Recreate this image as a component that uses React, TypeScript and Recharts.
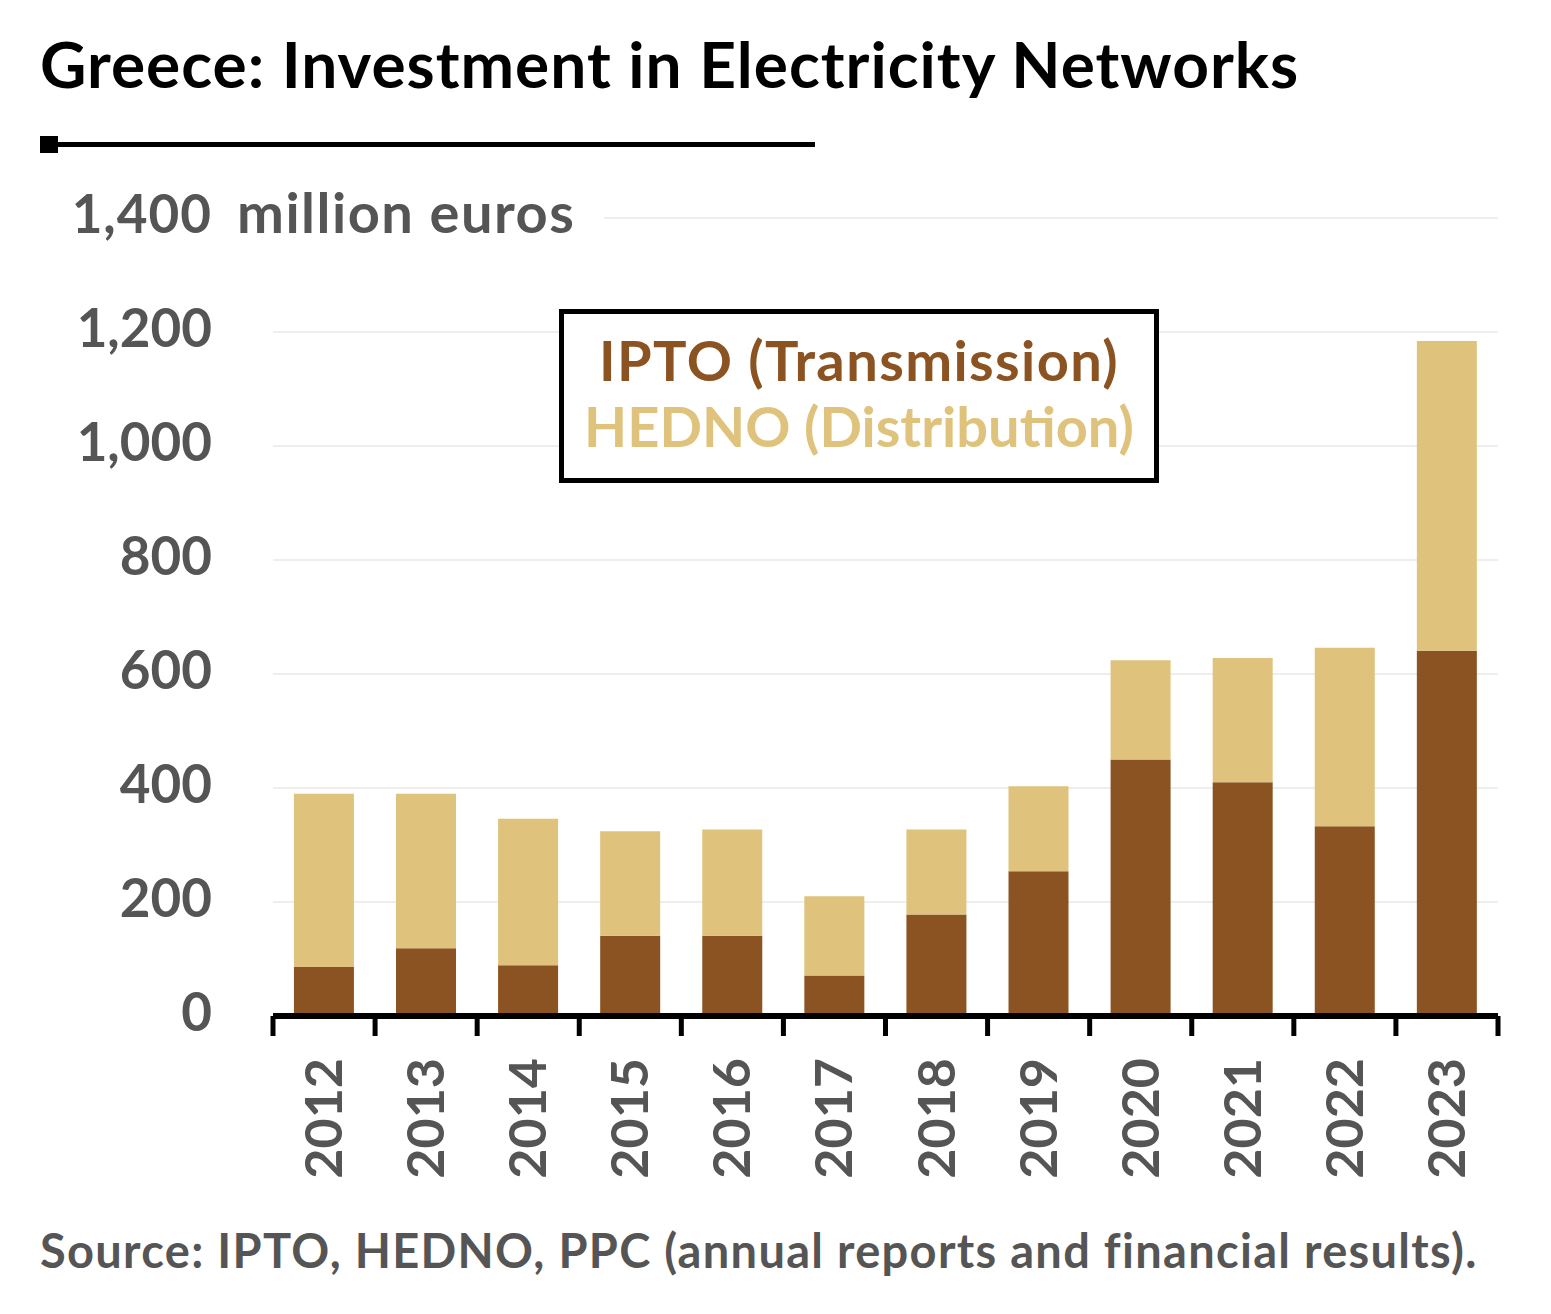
import React from 'react';
import { BarChart, Bar, XAxis, YAxis, CartesianGrid, Legend } from 'recharts';

// ---- data ----
const years = ['2012', '2013', '2014', '2015', '2016', '2017', '2018', '2019', '2020', '2021', '2022', '2023'];
const iptoTransmission = [86, 119, 89, 141, 141, 71, 178, 254, 450, 410, 333, 641];
const hednoDistribution = [304, 271, 257, 183, 186, 139, 149, 149, 174, 218, 313, 543];
const yTicks = [0, 200, 400, 600, 800, 1000, 1200, 1400];

const seriesNames = { ipto: 'IPTO (Transmission)', hedno: 'HEDNO (Distribution)' };
const titleText = 'Greece: Investment in Electricity Networks';
const unitText = 'million euros';
const sourceText = 'Source: IPTO, HEDNO, PPC (annual reports and financial results).';

const data = years.map((year, i) => ({ year, ipto: iptoTransmission[i], hedno: hednoDistribution[i] }));

// ---- layout / style ----
const W = 1551;
const H = 1314;
const FONT = 'Lato, "Noto Sans", sans-serif';
const GRAY = '#555555';
const BROWN = '#8C5322';
const TAN = '#DFC37C';
const PLOT_LEFT = 273;
const PLOT_RIGHT = 1498;
const PLOT_TOP = 218;
const PLOT_BOTTOM = 1016;
const BAND = (PLOT_RIGHT - PLOT_LEFT) / years.length;

const YTick = (props: any) => {
  const { y, payload } = props;
  const v = payload.value as number;
  const label = v.toLocaleString('en-US');
  const isTop = v === yTicks[yTicks.length - 1];
  return (
    <g>
      {isTop && <rect x={214} y={y - 12} width={390} height={24} fill="#ffffff" />}
      <text
        x={212}
        y={y + 15}
        textAnchor="end"
        fill={GRAY}
        fontFamily={FONT}
        fontWeight={700}
        fontSize={53}
        letterSpacing={isTop ? 1 : 0}
      >
        {label}
      </text>
      {isTop && (
        <text
          x={237}
          y={y + 15}
          textAnchor="start"
          fill={GRAY}
          fontFamily={FONT}
          fontWeight={700}
          fontSize={56}
          letterSpacing={1.5}
        >
          {unitText}
        </text>
      )}
    </g>
  );
};

const XTick = (props: any) => {
  const { x, payload } = props;
  const half = BAND / 2;
  const isLast = payload.value === years[years.length - 1];
  return (
    <g>
      <line x1={x - half} x2={x - half} y1={PLOT_BOTTOM} y2={1036} stroke="#000" strokeWidth={5} />
      {isLast && <line x1={x + half} x2={x + half} y1={PLOT_BOTTOM} y2={1036} stroke="#000" strokeWidth={5} />}
      <text
        transform={`translate(${x + 18},1058) rotate(-90)`}
        textAnchor="end"
        fill={GRAY}
        fontFamily={FONT}
        fontWeight={700}
        fontSize={52}
      >
        {payload.value}
      </text>
    </g>
  );
};

const LegendBox = () => (
  <svg width={600} height={174} style={{ display: 'block' }}>
    <rect x={2.5} y={2.5} width={595} height={169} fill="#fff" stroke="#000" strokeWidth={5} />
    <text
      x={300}
      y={72}
      textAnchor="middle"
      fill={BROWN}
      fontFamily={FONT}
      fontWeight={700}
      fontSize={56}
      letterSpacing={1.4}
    >
      {seriesNames.ipto}
    </text>
    <text x={300} y={138} textAnchor="middle" fill={TAN} fontFamily={FONT} fontWeight={700} fontSize={56}>
      {seriesNames.hedno}
    </text>
  </svg>
);

export default function App() {
  return (
    <div style={{ position: 'absolute', left: 0, top: 0, width: W, height: H, background: '#fff' }}>
      <BarChart
        width={W}
        height={H}
        data={data}
        margin={{ top: PLOT_TOP, right: W - PLOT_RIGHT, bottom: 98, left: 0 }}
        barCategoryGap="20.5%"
      >
        <CartesianGrid vertical={false} stroke="#eeeeee" strokeWidth={2} />
        <XAxis
          dataKey="year"
          height={H - 98 - PLOT_BOTTOM}
          axisLine={{ stroke: '#000', strokeWidth: 6 }}
          tickLine={false}
          tick={<XTick />}
          interval={0}
        />
        <YAxis
          width={PLOT_LEFT}
          domain={[0, 1400]}
          ticks={yTicks}
          axisLine={false}
          tickLine={false}
          tick={<YTick />}
          interval={0}
        />
        <Bar dataKey="ipto" name={seriesNames.ipto} stackId="a" fill={BROWN} isAnimationActive={false} />
        <Bar dataKey="hedno" name={seriesNames.hedno} stackId="a" fill={TAN} isAnimationActive={false} />
        <Legend
          layout="vertical"
          align="center"
          verticalAlign="middle"
          content={<LegendBox />}
          wrapperStyle={{ left: 559, top: 309, width: 600, height: 174 }}
        />
      </BarChart>
      <svg width={W} height={H} style={{ position: 'absolute', left: 0, top: 0, pointerEvents: 'none' }}>
        <text x={40} y={88} fill="#000" fontFamily={FONT} fontWeight={700} fontSize={64} letterSpacing={1}>
          {titleText}
        </text>
        <rect x={40} y={136} width={18} height={17} fill="#000" />
        <line x1={56} x2={815} y1={144.5} y2={144.5} stroke="#000" strokeWidth={5} />
        <text x={40} y={1268} fill={GRAY} fontFamily={FONT} fontWeight={700} fontSize={47} letterSpacing={1.3}>
          {sourceText}
        </text>
      </svg>
    </div>
  );
}
